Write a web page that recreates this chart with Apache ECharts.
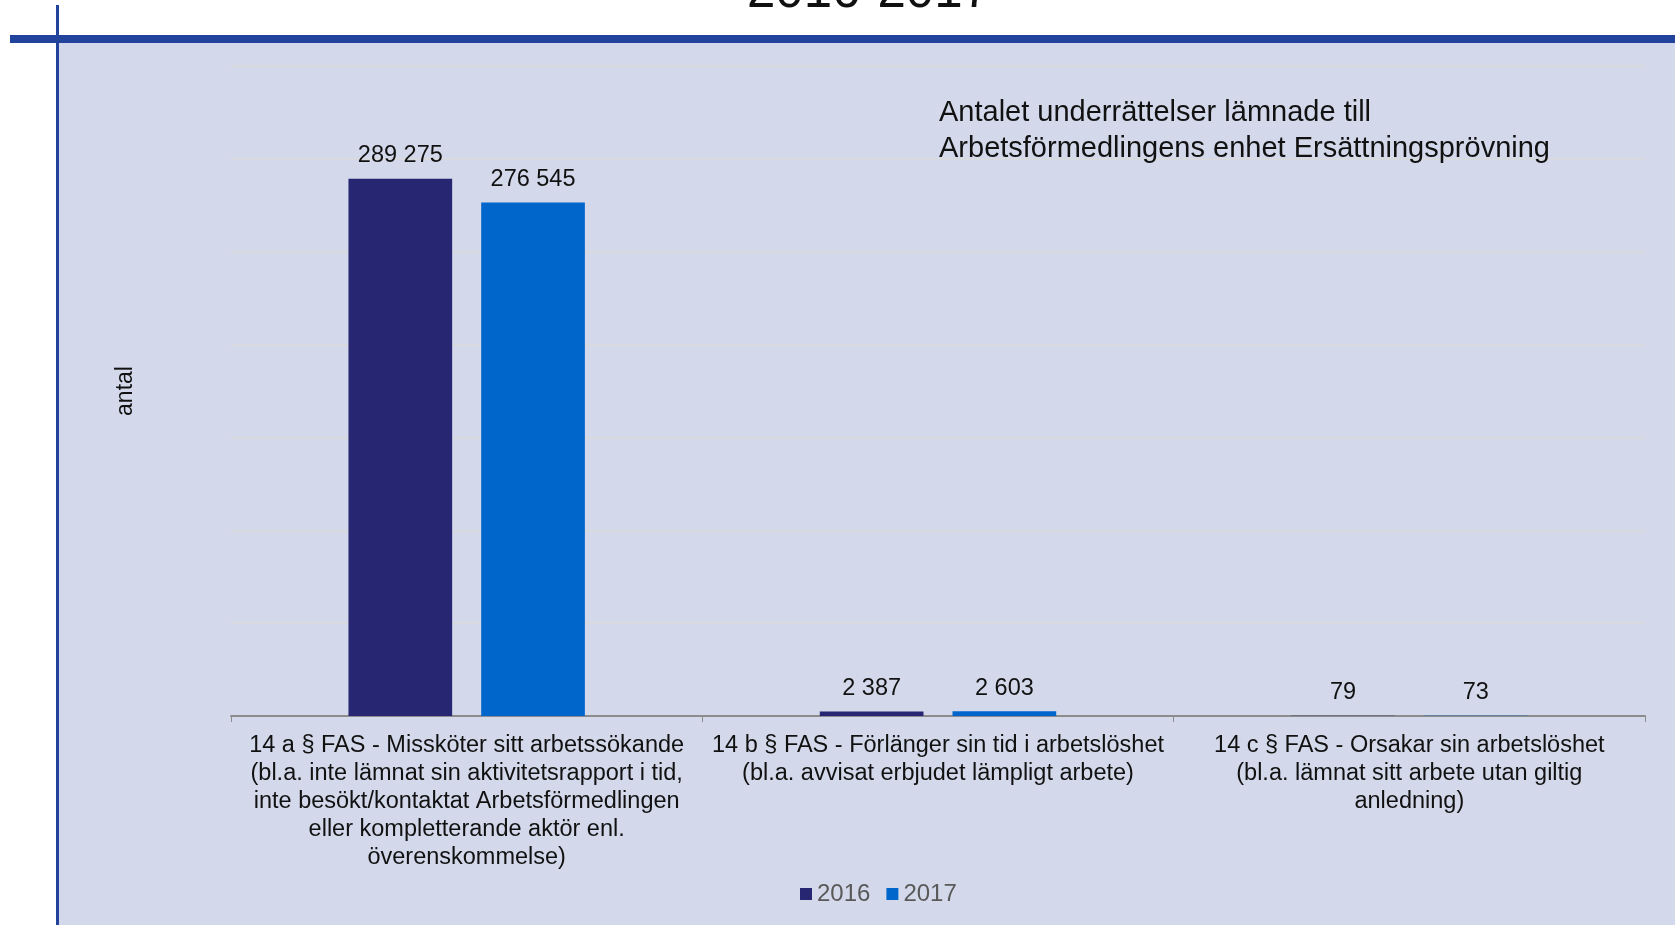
<!DOCTYPE html>
<html>
<head>
<meta charset="utf-8">
<script src="https://cdn.jsdelivr.net/npm/echarts@6/dist/echarts.min.js"></script>
<style>
  html, body { margin: 0; padding: 0; background: #fff; }
  #main { width: 1675px; height: 925px; }
</style>
</head>
<body>
<div id="main"></div>
<script>
// kategorier (radbrytningar som i originalet)
const categories = [
  "14 a § FAS - Missköter sitt arbetssökande\n(bl.a. inte lämnat sin aktivitetsrapport i tid,\ninte besökt/kontaktat Arbetsförmedlingen\neller kompletterande aktör enl.\növerenskommelse)",
  "14 b § FAS - Förlänger sin tid i arbetslöshet\n(bl.a. avvisat erbjudet lämpligt arbete)",
  "14 c § FAS - Orsakar sin arbetslöshet\n(bl.a. lämnat sitt arbete utan giltig\nanledning)"
];
const years = ["2016", "2017"];
const values2016 = [289275, 2387, 79];
const values2017 = [276545, 2603, 73];

const font = "Liberation Sans, Arial, sans-serif";

// tusentalsavgränsare med mellanslag
const fmt = p => String(p.value).replace(/\B(?=(\d{3})+(?!\d))/g, " ");

const chart = echarts.init(document.getElementById("main"));

const option = {
  backgroundColor: "#ffffff",
  textStyle: { fontFamily: font },
  graphic: [
    { type: "rect", z: -10, shape: { x: 58, y: 43, width: 1617, height: 882 }, style: { fill: "#D3D9EA" } },
    { type: "rect", z: -5, shape: { x: 10, y: 35, width: 1665, height: 8 }, style: { fill: "#21439B" } },
    { type: "rect", z: -5, shape: { x: 56, y: 5, width: 3, height: 920 }, style: { fill: "#21439B" } },
    {
      type: "text", left: 747, top: -33, z: 100,
      style: { text: "2016-2017", fontSize: 51, fontFamily: font, fill: "#111" }
    },
    {
      type: "text", left: 939, top: 95, z: 100,
      style: {
        text: "Antalet underrättelser lämnade till\nArbetsförmedlingens enhet Ersättningsprövning",
        fontSize: 29, lineHeight: 36, fontFamily: font, fill: "#111"
      }
    }
  ],
  legend: {
    data: years,
    left: 795,
    top: 877,
    icon: "rect",
    itemWidth: 12,
    itemHeight: 12,
    itemGap: 16,
    textStyle: { fontSize: 24, color: "#595959", fontFamily: font }
  },
  grid: { left: 231, right: 30, top: 66, bottom: 209 },
  xAxis: {
    type: "category",
    data: categories,
    axisLine: { lineStyle: { color: "#8C8C8C", width: 2 } },
    axisTick: { show: true, length: 6, lineStyle: { color: "#8C8C8C" } },
    axisLabel: {
      interval: 0, margin: 16, fontSize: 23.5, lineHeight: 28,
      color: "#111", fontFamily: font, align: "center"
    }
  },
  yAxis: {
    type: "value",
    min: 0,
    max: 350000,
    interval: 50000,
    name: "antal",
    nameLocation: "middle",
    nameRotate: 90,
    nameGap: 94,
    nameTextStyle: { fontSize: 23, color: "#111", fontFamily: font },
    axisLabel: { show: false },
    axisLine: { show: false },
    axisTick: { show: false },
    splitLine: { lineStyle: { color: "#D9DADF", width: 2 } }
  },
  series: [
    {
      name: years[0], type: "bar", data: values2016,
      barWidth: "22%", barGap: "28%",
      itemStyle: { color: "#272672" },
      label: { show: true, position: "top", distance: 11, fontSize: 23.5, color: "#111", fontFamily: font, formatter: fmt }
    },
    {
      name: years[1], type: "bar", data: values2017,
      barWidth: "22%", barGap: "28%",
      itemStyle: { color: "#0066CC" },
      label: { show: true, position: "top", distance: 11, fontSize: 23.5, color: "#111", fontFamily: font, formatter: fmt }
    }
  ]
};

chart.setOption(option);
</script>
</body>
</html>
